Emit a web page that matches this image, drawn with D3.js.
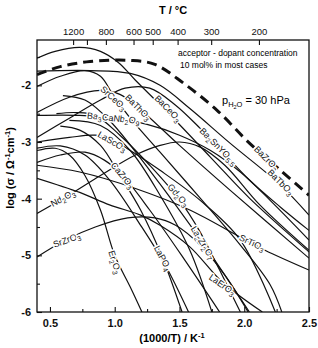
<!DOCTYPE html>
<html lang="en">
<head>
<meta charset="UTF-8">
<title>Proton conductivity of acceptor-doped oxides</title>
<style>
  body { margin: 0; background: #fff; }
  svg { display: block; font-family: "Liberation Sans", Arial, sans-serif; }
  .axis text { font-size: 11px; fill: #111; }
  .axis line { stroke: #111; stroke-width: 1.1; }
  .axis path { display: none; }
  .curve { fill: none; stroke: #111; stroke-width: 1.2; }
  .curve.dash { stroke-width: 3; stroke-dasharray: 10 6; }
  .lbl { font-size: 9px; fill: #111; stroke: #fff; stroke-width: 3px; paint-order: stroke; stroke-linejoin: round; }
</style>
</head>
<body>
<script src="https://cdn.jsdelivr.net/npm/d3@7"></script>
<script>
// log conductivity vs 1000/T
const BaZrO3 = [[0.40,-1.81],[0.58,-1.67],[0.81,-1.58],[1.12,-1.56],[1.31,-1.63],[1.53,-1.96],[1.79,-2.44],[2.04,-3.02],[2.28,-3.50],[2.50,-3.94]];
const BaCeO3 = [[0.40,-1.52],[0.54,-1.40],[0.73,-1.33],[0.89,-1.40],[1.03,-1.60],[1.16,-1.91],[1.41,-2.48],[1.74,-3.27],[2.04,-3.99],[2.50,-4.94]];
const SrCeO3 = [[0.40,-2.02],[0.58,-1.84],[0.77,-1.74],[0.89,-1.84],[0.99,-2.18],[1.12,-2.58],[1.35,-3.18],[1.66,-3.99],[1.97,-4.82],[2.20,-5.52],[2.29,-6.0]];
const BaThO3 = [[0.40,-2.48],[0.65,-2.21],[0.89,-2.09],[1.04,-2.16],[1.18,-2.39],[1.50,-3.06],[1.89,-3.85],[2.50,-5.05]];
const BaTbO3 = [[0.40,-1.75],[0.81,-1.74],[1.12,-1.79],[1.35,-2.00],[1.58,-2.41],[1.89,-3.02],[2.28,-3.76],[2.50,-4.29]];
const Ba3CaNb2O9 = [[0.40,-2.53],[0.73,-2.53],[0.99,-2.58],[1.25,-2.69],[1.50,-2.88],[1.74,-3.15],[1.97,-3.53],[2.20,-4.03],[2.50,-4.73]];
const Ba2SnYO55 = [[0.40,-2.92],[0.65,-2.58],[0.89,-2.26],[1.08,-2.05],[1.27,-2.05],[1.47,-2.35],[1.66,-2.76],[1.80,-3.09],[2.04,-3.67],[2.28,-4.15],[2.50,-4.56]];
const LaScO3 = [[0.40,-3.00],[0.65,-2.92],[0.85,-2.88],[0.98,-2.97],[1.12,-3.15],[1.35,-3.50],[1.66,-4.03],[1.97,-4.73],[2.24,-6.0]];
const CaZrO3 = [[0.40,-3.36],[0.58,-3.23],[0.77,-3.18],[0.92,-3.32],[1.06,-3.59],[1.27,-4.20],[1.54,-5.08],[1.81,-6.0]];
const Nd2O3 = [[0.40,-4.26],[0.68,-3.89],[0.89,-3.59],[1.16,-3.23],[1.35,-3.06],[1.50,-3.00],[1.66,-3.09],[1.85,-3.41],[2.12,-4.11],[2.50,-4.91]];
const SrZrO3 = [[0.40,-5.03],[0.62,-4.73],[0.85,-4.50],[1.10,-4.34],[1.31,-4.34],[1.47,-4.47],[1.66,-4.82],[1.85,-5.35],[2.03,-6.0]];
const SrTiO3 = [[0.40,-3.41],[0.73,-3.53],[1.16,-3.82],[1.58,-4.20],[1.97,-4.68],[2.16,-4.91],[2.50,-5.26]];
const Er2O3 = [[0.40,-3.15],[0.54,-3.11],[0.65,-3.23],[0.77,-3.59],[0.89,-4.20],[1.00,-5.00],[1.12,-5.56],[1.21,-6.0]];
const LaPO4 = [[0.58,-2.72],[0.73,-2.79],[0.89,-3.06],[1.04,-3.59],[1.20,-4.20],[1.37,-5.05],[1.52,-6.0]];
const Gd2O3 = [[0.55,-2.50],[0.70,-2.48],[0.85,-2.53],[1.04,-2.88],[1.27,-3.41],[1.49,-3.99],[1.66,-4.59],[1.81,-5.26],[1.97,-6.0]];
const La2Zr2O7 = [[0.60,-2.18],[0.77,-2.26],[0.96,-2.62],[1.27,-3.50],[1.68,-4.78],[2.04,-6.0]];
const LaErO3 = [[0.40,-3.64],[0.73,-3.89],[0.96,-4.11],[1.20,-4.29],[1.35,-4.47],[1.58,-4.85],[1.83,-5.47],[2.14,-6.0]];
const otherA = [[0.40,-3.11],[0.58,-3.07],[0.77,-3.23],[0.96,-3.67],[1.20,-4.47],[1.39,-5.17],[1.57,-6.0]];
const otherB = [[0.65,-2.62],[0.89,-2.71],[1.12,-3.15],[1.35,-3.94],[1.58,-4.91],[1.75,-6.0]];

const solidCurves = [BaCeO3, SrCeO3, BaThO3, BaTbO3, Ba3CaNb2O9, Ba2SnYO55, LaScO3, CaZrO3,
  Nd2O3, SrZrO3, SrTiO3, Er2O3, LaPO4, Gd2O3, La2Zr2O7, LaErO3, otherA, otherB];
const dashedCurves = [BaZrO3];

// labels: text (digits become subscripts), anchor in data units, rotation
const labelText = ["SrCeO3", "BaThO3", "BaCeO3", "Ba3CaNb2O9", "Ba2SnYO5.5", "BaZrO3", "BaTbO3",
  "LaScO3", "CaZrO3", "Nd2O3", "SrZrO3", "Er2O3", "Gd2O3", "La2Zr2O7", "SrTiO3", "LaPO4", "LaErO3"];
const labelX = [0.99, 1.18, 1.41, 0.99, 1.80, 2.17, 2.28, 0.98, 1.06, 0.60, 0.63, 1.00, 1.49, 1.68, 2.06, 1.37, 1.83];
const labelY = [-2.23, -2.39, -2.41, -2.58, -3.08, -3.29, -3.71, -2.99, -3.59, -3.99, -4.73, -5.12, -3.94, -4.78, -4.78, -5.05, -5.52];
const labelAngle = [42, 45, 45, 6, 45, 45, 45, 30, 50, -28, -20, 72, 48, 58, 25, 62, 35];

const xMajor = [0.5, 1.0, 1.5, 2.0, 2.5];
const xMinor = [0.75, 1.25, 1.75, 2.25];
const yMajor = [-6, -5, -4, -3, -2];
const yMinor = [-5.5, -4.5, -3.5, -2.5, -1.5];
const tempTicks = [1200, 1000, 800, 600, 500, 400, 300, 200];
const tempLabelled = [1200, 800, 600, 500, 400, 300, 200];

const W = 318, H = 348;
const x = d3.scaleLinear([0.4, 2.5], [37, 309]);
const y = d3.scaleLinear([-6, -1.2], [312, 40]);

const svg = d3.select("body").append("svg").attr("width", W).attr("height", H);

svg.append("rect").attr("width", W).attr("height", H).attr("fill", "#fff");

svg.append("clipPath").attr("id", "plot")
  .append("rect").attr("x", x(0.4)).attr("y", y(-1.2))
  .attr("width", x(2.5) - x(0.4)).attr("height", y(-6) - y(-1.2));

const line = d3.line().x(d => x(d[0])).y(d => y(d[1])).curve(d3.curveCatmullRom.alpha(0.5));

const g = svg.append("g").attr("clip-path", "url(#plot)");

g.selectAll("path.solid").data(solidCurves).enter().append("path")
  .attr("class", "curve solid").attr("d", line);

g.selectAll("path.dash").data(dashedCurves).enter().append("path")
  .attr("class", "curve dash").attr("d", line);

// labels with white halo, subscripts for digits
function addChem(textSel, str) {
  const parts = str.split(/(\d+(?:\.\d+)?)/).filter(s => s.length);
  let shifted = false;
  parts.forEach(p => {
    const isNum = /^\d/.test(p);
    const t = textSel.append("tspan").text(p);
    if (isNum && !shifted) { t.attr("dy", 2.4).attr("font-size", "7px"); shifted = true; }
    else if (!isNum && shifted) { t.attr("dy", -2.4); shifted = false; }
    else if (isNum) { t.attr("font-size", "7px"); }
  });
}

labelText.forEach((s, i) => {
  const lg = svg.append("g")
    .attr("transform", `translate(${x(labelX[i])},${y(labelY[i])}) rotate(${labelAngle[i]})`);
  const t = lg.append("text").attr("class", "lbl").attr("text-anchor", "middle").attr("y", 3);
  addChem(t, s);
});

// frame
svg.append("rect").attr("x", x(0.4)).attr("y", y(-1.2))
  .attr("width", x(2.5) - x(0.4)).attr("height", y(-6) - y(-1.2))
  .attr("fill", "none").attr("stroke", "#111").attr("stroke-width", 1.3);

// bottom axis
svg.append("g").attr("class", "axis").attr("transform", `translate(0,${y(-6)})`)
  .call(d3.axisBottom(x).tickValues(xMajor).tickSize(-5).tickPadding(7).tickFormat(d3.format(".1f")))
  .selectAll("text").attr("font-weight", "bold");
svg.append("g").attr("class", "axis").attr("transform", `translate(0,${y(-6)})`)
  .call(d3.axisBottom(x).tickValues(xMinor).tickSize(-3).tickFormat(""));

// left axis
svg.append("g").attr("class", "axis").attr("transform", `translate(${x(0.4)},0)`)
  .call(d3.axisLeft(y).tickValues(yMajor).tickSize(-5).tickPadding(6).tickFormat(d => String(d)))
  .selectAll("text").attr("font-weight", "bold");
svg.append("g").attr("class", "axis").attr("transform", `translate(${x(0.4)},0)`)
  .call(d3.axisLeft(y).tickValues(yMinor).tickSize(-3).tickFormat(""));

// top axis in degrees C
const invT = t => 1000 / (t + 273.15);
svg.append("g").attr("class", "axis top").attr("transform", `translate(0,${y(-1.2)})`)
  .call(d3.axisTop(x).tickValues(tempTicks.map(invT)).tickSize(-5).tickPadding(5)
    .tickFormat((d, i) => tempLabelled.includes(tempTicks[i]) ? tempTicks[i] : ""))
  .selectAll("text").style("font-size", "9.5px");

// axis titles
svg.append("text").attr("x", 173).attr("y", 14).attr("text-anchor", "middle")
  .attr("font-size", "11px").attr("font-weight", "bold").text("T / °C");

const xt = svg.append("text").attr("x", 172).attr("y", 342).attr("text-anchor", "middle")
  .attr("font-size", "11px").attr("font-weight", "bold");
xt.append("tspan").text("(1000/T) / K");
xt.append("tspan").attr("dy", -4).attr("font-size", "7.5px").text("-1");

const yt = svg.append("text").attr("transform", "translate(14,168) rotate(-90)")
  .attr("text-anchor", "middle").attr("font-size", "11px").attr("font-weight", "bold");
yt.append("tspan").text("log (σ / Ω");
yt.append("tspan").attr("dy", -4).attr("font-size", "7.5px").text("-1");
yt.append("tspan").attr("dy", 4).text("cm");
yt.append("tspan").attr("dy", -4).attr("font-size", "7.5px").text("-1");
yt.append("tspan").attr("dy", 4).text(")");

// notes
svg.append("text").attr("x", 178).attr("y", 56).attr("font-size", "8.5px").text("acceptor - dopant concentration");
svg.append("text").attr("x", 180).attr("y", 68).attr("font-size", "8.5px").text("10 mol% in most cases");

const pt = svg.append("text").attr("x", 222).attr("y", 104).attr("font-size", "11px");
pt.append("tspan").text("p");
pt.append("tspan").attr("dy", 3).attr("font-size", "7.5px").text("H");
pt.append("tspan").attr("dy", 2).attr("font-size", "5.5px").text("2");
pt.append("tspan").attr("dy", -2).attr("font-size", "7.5px").text("O");
pt.append("tspan").attr("dy", -3).text(" = 30 hPa");
</script>
</body>
</html>
